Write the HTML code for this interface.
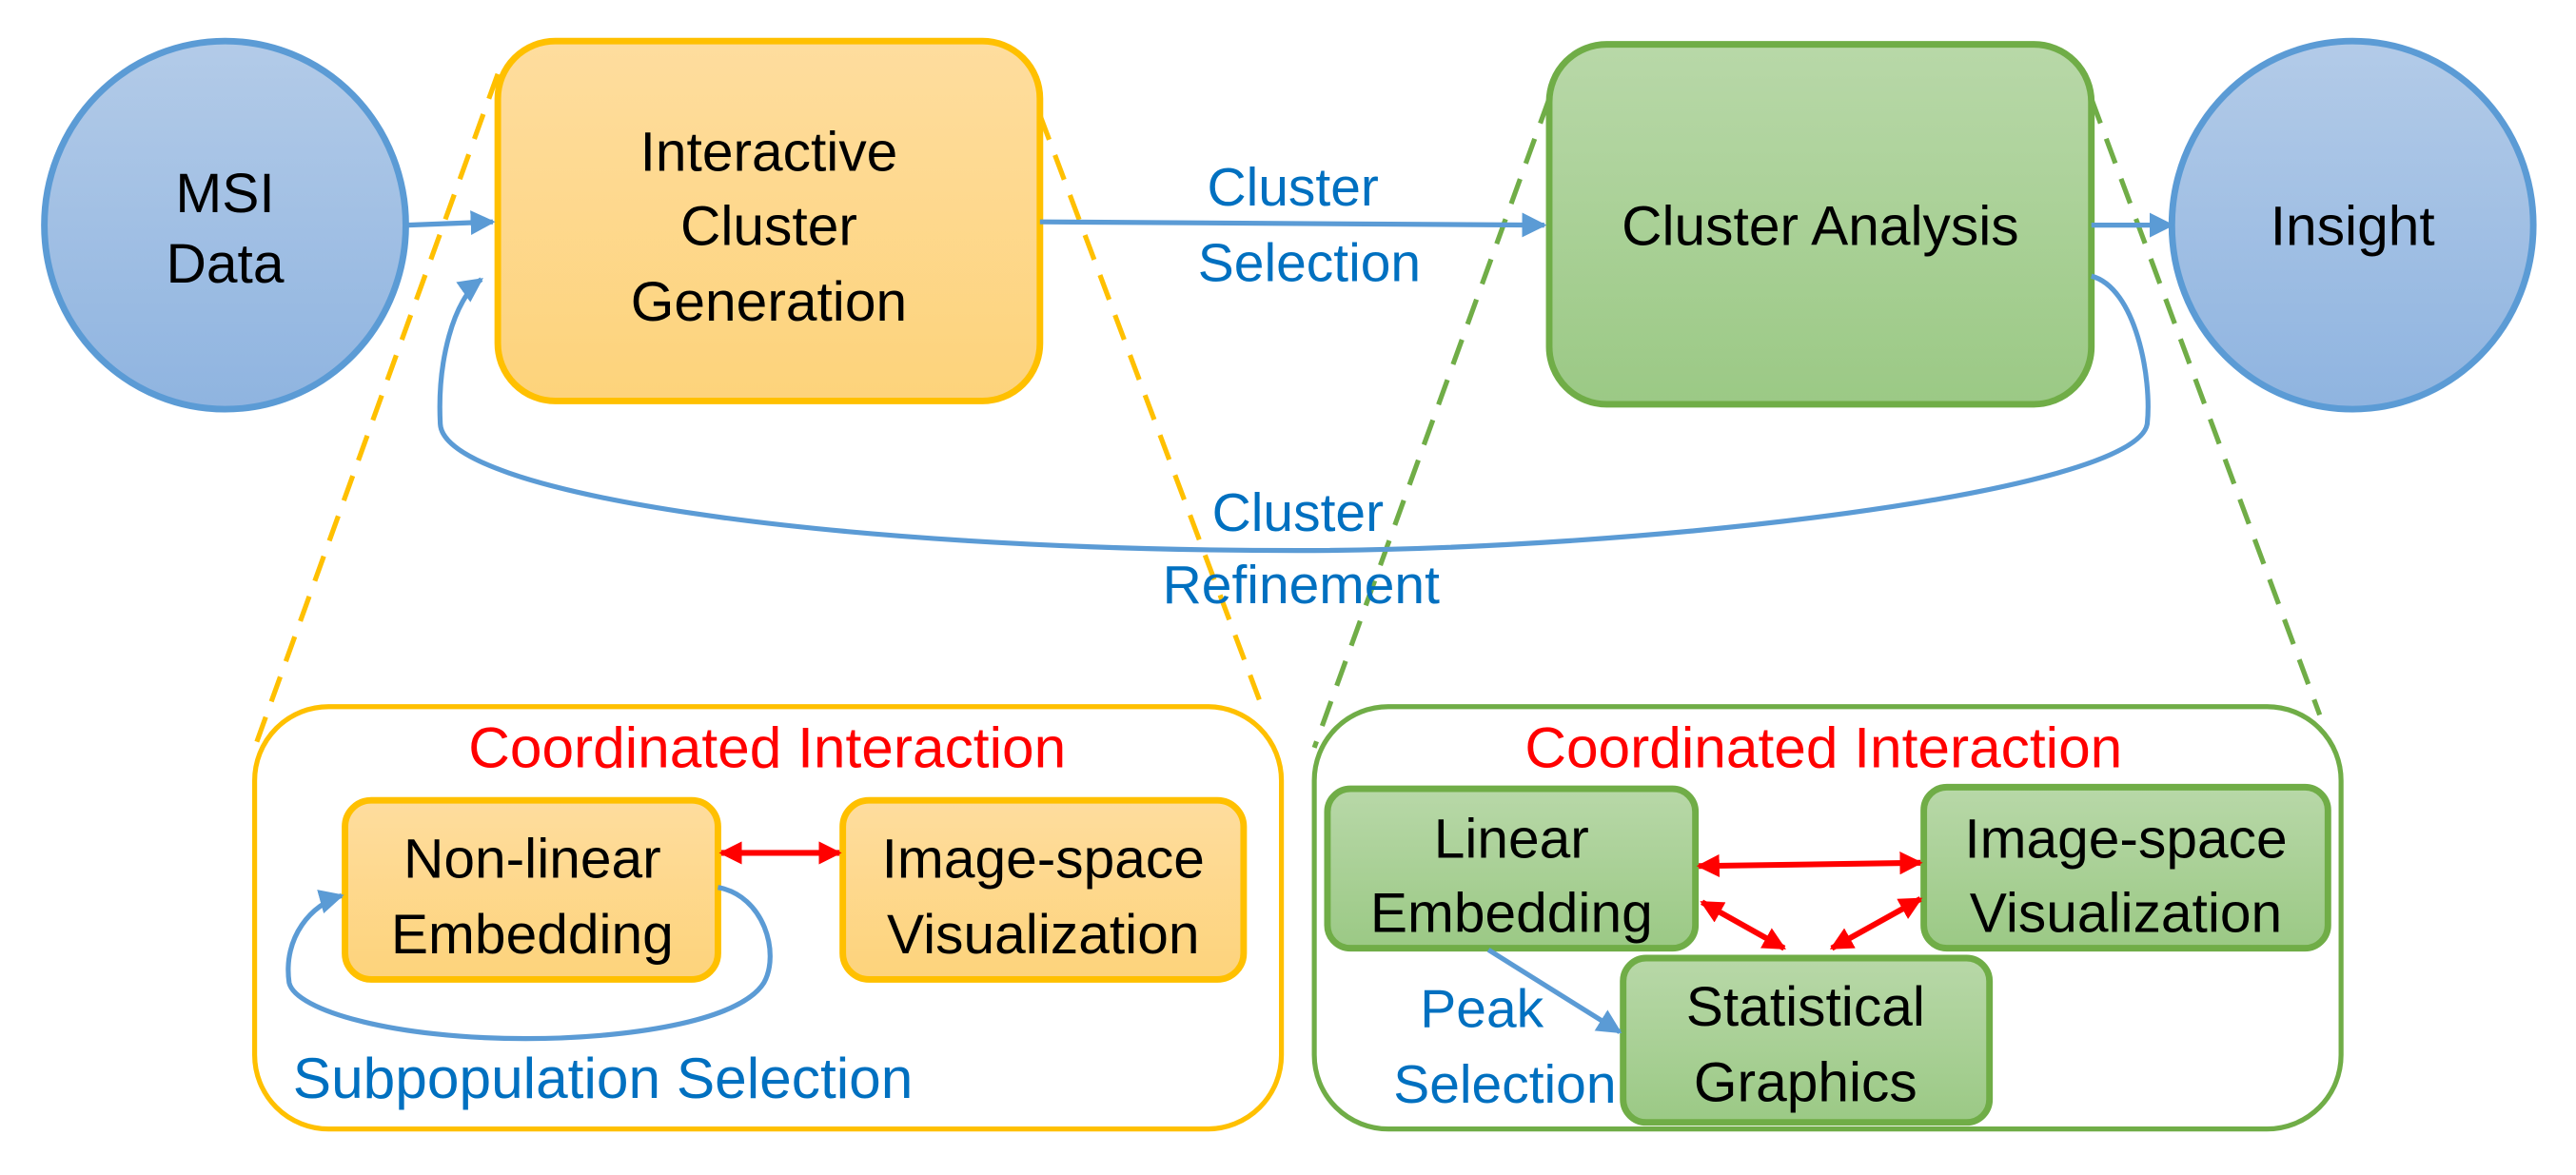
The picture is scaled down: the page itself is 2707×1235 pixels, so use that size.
<!DOCTYPE html>
<html><head><meta charset="utf-8"><style>html,body{margin:0;padding:0;background:#fff;overflow:hidden}svg{display:block}text{font-family:"Liberation Sans",sans-serif}</style></head>
<body>
<svg width="2707" height="1235" viewBox="0 0 1568 715" preserveAspectRatio="none" xmlns="http://www.w3.org/2000/svg">
<defs>
<linearGradient id="gb" x1="0" y1="0" x2="0" y2="1"><stop offset="0" stop-color="#b3cbe8"/><stop offset="1" stop-color="#8fb4e0"/></linearGradient>
<linearGradient id="go" x1="0" y1="0" x2="0" y2="1"><stop offset="0" stop-color="#fedd9e"/><stop offset="1" stop-color="#fdd37b"/></linearGradient>
<linearGradient id="gg" x1="0" y1="0" x2="0" y2="1"><stop offset="0" stop-color="#b8d8a8"/><stop offset="1" stop-color="#9bc985"/></linearGradient>
<marker id="ab" viewBox="0 0 10 10" refX="9" refY="5" markerWidth="5" markerHeight="5" orient="auto"><path d="M0,0L10,5L0,10z" fill="#5b9bd5"/></marker>
<marker id="ar" viewBox="0 0 10 10" refX="9" refY="5" markerWidth="4" markerHeight="4" orient="auto-start-reverse"><path d="M0,0L10,5L0,10z" fill="#ff0000"/></marker>
</defs>
<g stroke-width="3" stroke-dasharray="16,10" fill="none">
<line x1="303" y1="45" x2="155" y2="455" stroke="#ffc000"/>
<line x1="633" y1="70" x2="770" y2="435" stroke="#ffc000"/>
<line x1="943" y1="60" x2="800" y2="455" stroke="#70ad47"/>
<line x1="1273" y1="60" x2="1412" y2="435" stroke="#70ad47"/>
</g>
<ellipse cx="137" cy="137" rx="110" ry="112" fill="url(#gb)" stroke="#5b9bd5" stroke-width="4"/>
<ellipse cx="1432" cy="137" rx="110" ry="112" fill="url(#gb)" stroke="#5b9bd5" stroke-width="4"/>
<rect x="303" y="25" width="330" height="219" rx="35" fill="url(#go)" stroke="#ffc000" stroke-width="4"/>
<rect x="943" y="27" width="330" height="219" rx="35" fill="url(#gg)" stroke="#70ad47" stroke-width="4"/>
<g font-size="34" text-anchor="middle" fill="#000">
<text x="137" y="129">MSI</text><text x="137" y="172">Data</text>
<text x="468" y="104">Interactive</text><text x="468" y="149">Cluster</text><text x="468" y="195">Generation</text>
<text x="1108" y="149">Cluster Analysis</text>
<text x="1432" y="149">Insight</text>
</g>
<g stroke="#5b9bd5" stroke-width="3" fill="none">
<line x1="248" y1="137" x2="300" y2="135" marker-end="url(#ab)"/>
<line x1="633" y1="135" x2="940" y2="137" marker-end="url(#ab)"/>
<line x1="1273" y1="137" x2="1322" y2="137" marker-end="url(#ab)"/>
<path d="M1273,168 C1300,175 1310,230 1307,258 C1300,300 1000,335 790,335 C500,335 270,300 268,258 C266,220 276,182 293,170" marker-end="url(#ab)"/>
</g>
<g font-size="33" text-anchor="middle" fill="#0070c0">
<text x="787" y="125">Cluster</text><text x="797" y="171">Selection</text>
<text x="790" y="323">Cluster</text><text x="792" y="367">Refinement</text>
</g>
<rect x="155" y="430" width="625" height="257" rx="45" fill="#fff" stroke="#ffc000" stroke-width="3"/>
<text x="467" y="467" font-size="35" text-anchor="middle" fill="#ff0000">Coordinated Interaction</text>
<rect x="210" y="487" width="227" height="109" rx="16" fill="url(#go)" stroke="#ffc000" stroke-width="4"/>
<rect x="513" y="487" width="244" height="109" rx="16" fill="url(#go)" stroke="#ffc000" stroke-width="4"/>
<g font-size="34" text-anchor="middle" fill="#000">
<text x="324" y="534">Non-linear</text><text x="324" y="580">Embedding</text>
<text x="635" y="534">Image-space</text><text x="635" y="580">Visualization</text>
</g>
<line x1="439" y1="519" x2="511" y2="519" stroke="#ff0000" stroke-width="3.5" marker-start="url(#ar)" marker-end="url(#ar)"/>
<path d="M437,540 C465,545 475,580 465,598 C450,622 380,632 320,632 C240,632 180,615 176,598 C172,570 190,550 208,545" stroke="#5b9bd5" stroke-width="3" fill="none" marker-end="url(#ab)"/>
<text x="367" y="668" font-size="35" text-anchor="middle" fill="#0070c0">Subpopulation Selection</text>
<rect x="800" y="430" width="625" height="257" rx="45" fill="#fff" stroke="#70ad47" stroke-width="3"/>
<text x="1110" y="467" font-size="35" text-anchor="middle" fill="#ff0000">Coordinated Interaction</text>
<rect x="808" y="480" width="224" height="97" rx="14" fill="url(#gg)" stroke="#70ad47" stroke-width="4"/>
<rect x="1171" y="479" width="246" height="98" rx="14" fill="url(#gg)" stroke="#70ad47" stroke-width="4"/>
<rect x="988" y="583" width="223" height="100" rx="14" fill="url(#gg)" stroke="#70ad47" stroke-width="4"/>
<g font-size="34" text-anchor="middle" fill="#000">
<text x="920" y="522">Linear</text><text x="920" y="567">Embedding</text>
<text x="1294" y="522">Image-space</text><text x="1294" y="567">Visualization</text>
<text x="1099" y="624">Statistical</text><text x="1099" y="670">Graphics</text>
</g>
<line x1="906" y1="578" x2="986" y2="628" stroke="#5b9bd5" stroke-width="3" marker-end="url(#ab)"/>
<g stroke="#ff0000" stroke-width="3.5" marker-start="url(#ar)" marker-end="url(#ar)">
<line x1="1034" y1="527" x2="1169" y2="525"/>
<line x1="1036" y1="549" x2="1086" y2="577"/>
<line x1="1115" y1="577" x2="1169" y2="547"/>
</g>
<g font-size="33" text-anchor="middle" fill="#0070c0">
<text x="902" y="625">Peak</text><text x="916" y="671">Selection</text>
</g>
</svg>
</body></html>
